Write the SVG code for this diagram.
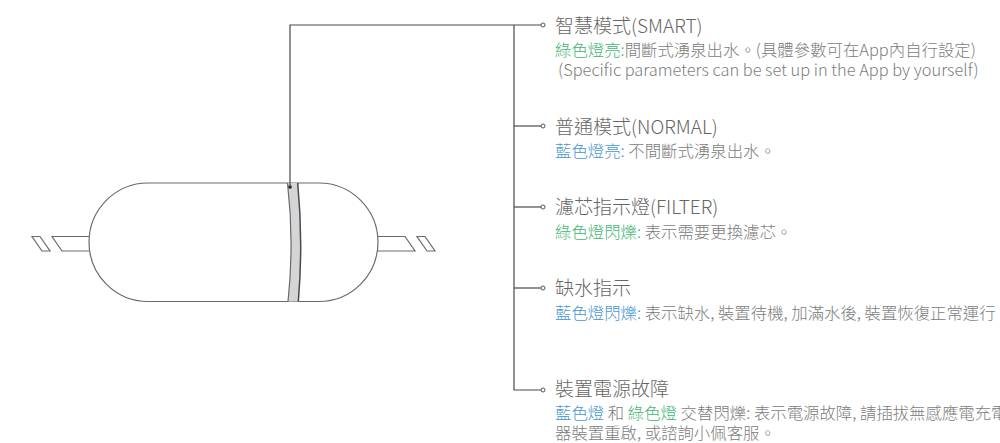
<svg xmlns="http://www.w3.org/2000/svg" width="1000" height="443" viewBox="0 0 1000 443">
<style>
text{font-family:"Noto Sans CJK TC","Noto Sans",sans-serif;font-weight:300;fill:#6e6e6e}
.h{font-size:19px;fill:#666}
.s{font-size:16.4px;fill:#7c7c7c}
.g{fill:#45b573}
.b{fill:#4796d4}
.l{fill:none;stroke:#4a4a4a;stroke-width:1.2}
.c{fill:#fff;stroke:#555;stroke-width:1}
.p{fill:none;stroke:#6a6a6a;stroke-width:1.2}
</style>
<g id="device">
<path class="p" d="M148 183H319A59 59.250 0 0 1 319 301.500H148A59 59.250 0 0 1 148 183Z"/>
<path d="M287.500 183Q294.400 242 288 301.500H298.300Q303.400 242 297.700 183Z" fill="#d4d5d6" stroke="none"/>
<path class="p" d="M287.500 183Q294.400 242 288 301.500"/>
<path fill="none" stroke="#4a4a4a" stroke-width="1.500" d="M297.700 183Q303.400 242 298.300 301.500"/>
<path class="p" d="M89 236.500H52L62 251H89"/>
<path class="p" d="M32 236.500H40L50 251H42Z"/>
<path class="p" d="M378 236.500H405L415 251H378"/>
<path class="p" d="M417 236.500H425L435 251H427Z"/>
<circle cx="290" cy="187" r="1.800" fill="#222"/>
</g>
<g id="connectors">
<path class="l" d="M290 187V25H541"/>
<path class="l" d="M514 25V390H541"/>
<path class="l" d="M514 126H541"/>
<path class="l" d="M514 207H541"/>
<path class="l" d="M514 288H541"/>
<circle class="c" cx="543" cy="25" r="2"/>
<circle class="c" cx="543" cy="126" r="2"/>
<circle class="c" cx="543" cy="207" r="2"/>
<circle class="c" cx="543" cy="288" r="2"/>
<circle class="c" cx="543" cy="390" r="2"/>
</g>
<g id="smart">
<text class="h" x="555" y="33">智慧模式(SMART)</text>
<text class="s" x="555" y="56"><tspan class="g">綠色燈亮:</tspan>間斷式湧泉出水。(具體參數可在App內自行設定)</text>
<text class="s" x="558" y="76">(Specific parameters can be set up in the App by yourself)</text>
</g>
<g id="normal">
<text class="h" x="555" y="134">普通模式(NORMAL)</text>
<text class="s" x="555" y="157"><tspan class="b">藍色燈亮:</tspan> 不間斷式湧泉出水。</text>
</g>
<g id="filter">
<text class="h" x="555" y="214">濾芯指示燈(FILTER)</text>
<text class="s" x="555" y="238"><tspan class="g">綠色燈閃爍:</tspan> 表示需要更換濾芯。</text>
</g>
<g id="water">
<text class="h" x="555" y="295">缺水指示</text>
<text class="s" x="555" y="319"><tspan class="b">藍色燈閃爍:</tspan> 表示缺水, 裝置待機, 加滿水後, 裝置恢復正常運行。</text>
</g>
<g id="fault">
<text class="h" x="555" y="396">裝置電源故障</text>
<text class="s" x="555" y="419"><tspan class="b">藍色燈</tspan> 和 <tspan class="g">綠色燈</tspan> 交替閃爍: 表示電源故障, 請插拔無感應電充電</text>
<text class="s" x="555" y="439">器裝置重啟, 或諮詢小佩客服。</text>
</g>
</svg>
